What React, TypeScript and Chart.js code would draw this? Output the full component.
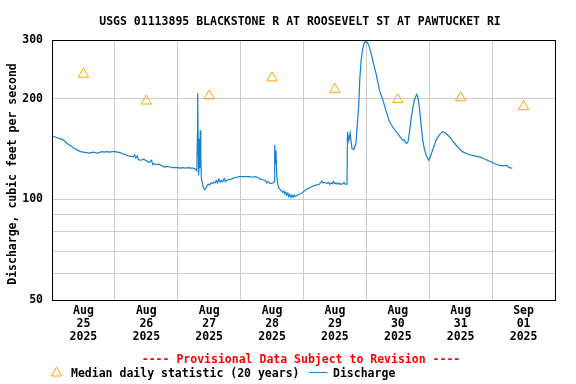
import React, { useEffect, useRef } from 'react';
import { Chart, registerables } from 'chart.js';

Chart.register(...registerables);

const TITLE = 'USGS 01113895 BLACKSTONE R AT ROOSEVELT ST AT PAWTUCKET RI';
const Y_TITLE = 'Discharge, cubic feet per second';
const NOTE = '---- Provisional Data Subject to Revision ----';
const LEGEND_MEDIAN = 'Median daily statistic (20 years)';
const LEGEND_DISCHARGE = 'Discharge';

// x is hours since 2025-08-25 00:00
const dayLabels = [
  ['Aug', '25', '2025'],
  ['Aug', '26', '2025'],
  ['Aug', '27', '2025'],
  ['Aug', '28', '2025'],
  ['Aug', '29', '2025'],
  ['Aug', '30', '2025'],
  ['Aug', '31', '2025'],
  ['Sep', '01', '2025'],
];
const medianHours = [12, 36, 60, 84, 108, 132, 156, 180];
const medianValues = [237, 197, 204, 231, 213.5, 199, 201.5, 189.5];

const yTicks = [50, 60, 70, 80, 90, 100, 200, 300];
const yLabeled = [50, 100, 200, 300];

const dischargeHours = [
  0, 1, 2, 3, 4, 5, 6, 7, 8, 9, 10, 11, 12, 13, 14, 15, 16, 17, 18, 19, 20, 21, 22, 23,
  24, 25, 26, 27, 28, 29, 30, 31, 31.5, 32, 32.5, 33, 34, 35, 36, 37, 38, 38.5, 39, 40, 41, 42, 43, 44, 45, 46, 47,
  48, 49, 50, 51, 52, 53, 54, 55, 55.3, 55.5, 55.6, 55.8, 56.0, 56.2, 56.4, 56.6, 56.8, 57.0, 57.3, 57.7, 58.2, 58.7,
  59.2, 59.7, 60.2, 60.7, 61.2, 61.7, 62.2, 62.7, 63.2, 63.7, 64.2, 64.7, 65.2, 65.7, 66.2, 66.7, 67.5, 68.5, 69.5, 70.5, 71.5,
  72.5, 73.5, 74.5, 75.5, 76.5, 77.5, 78.5, 79.5, 80.5, 81.5, 82, 82.5, 83, 83.5, 84.3, 84.8, 85.0, 85.3, 85.5, 85.8,
  86.1, 86.6, 87.1, 87.6, 88.1, 88.5, 88.8, 89.2, 89.6, 90.0, 90.4, 90.8, 91.2, 91.6, 92.0, 92.4, 92.8, 93.3, 94, 95,
  96, 97, 98, 99, 100, 101, 102, 103, 103.5, 104, 105, 105.5, 106, 106.5, 107, 107.5, 108, 108.5, 109, 109.5, 110, 111,
  111.5, 112, 112.6, 112.8, 113.3, 113.8, 114.5, 115.2, 116.0, 116.6, 117.1, 117.5, 118.0, 118.5, 119.2,
  120.0, 120.8, 121.8, 122.7, 123.7, 125, 126.3, 127.5, 128.8, 130, 131.4, 132.6, 133.3, 133.9, 134.5, 134.9, 135.4,
  135.9, 136.4, 137.1, 137.6, 138.3, 139.2, 139.6, 140.2, 140.8, 141.5, 142.1, 142.9, 143.8,
  144.4, 145.2, 146.6, 147.9, 149.1, 150.2, 151.7, 152.8, 154.2, 155.4, 156.7, 158, 159.3, 161.2, 163.1, 164.4, 166.2,
  168.1, 169.9, 171.9, 173.7, 174.5, 175.7,
];
const dischargeValues = [
  155, 154, 153, 152, 151, 149, 146.5, 145, 143, 141.5, 140, 139, 138.5, 138, 137.5, 138, 138.5, 137.5, 138, 139, 138.5, 139, 138.5, 139,
  139, 138.5, 138, 137, 136, 135, 134.5, 134, 136, 133, 135, 131.5, 131, 132, 130.5, 129, 131, 127, 128, 127, 127.5, 126, 125, 125.5, 125, 124.5, 124.5,
  124.5, 124, 124.5, 124, 124.5, 124, 124, 123, 122, 158, 208, 150, 118, 152, 124, 161, 135, 116, 113, 109, 107, 108,
  110, 111, 110.5, 112, 111.5, 112.5, 112, 114, 112, 115, 112.5, 114, 113, 115.5, 113, 114, 114.5, 115, 116, 116.5, 117,
  117, 117, 117, 117, 116.5, 117, 116.5, 115, 114.5, 114, 112, 113, 112, 111.5, 112, 113, 145.5, 128, 140, 118,
  112, 108, 107, 106, 105, 106, 104, 105, 103, 104.5, 102, 103.5, 101.5, 103, 101.5, 103, 102, 102.5, 103.5, 104,
  105.5, 107, 108, 109, 110, 110.5, 111, 113.5, 112, 112.5, 111.5, 112.5, 111, 112, 111.5, 113, 111.5, 112, 111, 112, 111, 111.5,
  112.5, 111, 111, 159, 150, 158, 142, 141, 147, 170, 192, 230, 261, 280, 294,
  297, 291, 274, 255, 238, 212, 198.5, 184, 171, 165, 159.5, 155, 152, 150.5, 151, 148, 147,
  149, 158, 175, 185, 198, 206, 203, 189.5, 170, 150.5, 142, 135, 131,
  134, 140, 150.5, 156, 159.5, 158, 154, 150, 145.5, 142, 139, 137.5, 136, 135, 134, 133, 131,
  129, 127, 126, 126.5, 124.5, 124,
];

const X_MIN = 0;
const X_MAX = 192;

const FONT_FAMILY = '"DejaVu Sans Mono", monospace';
const FONT_SIZE = 11.5;
const BLUE = '#1580d0';
const ORANGE = '#ffa500';
const GRID = '#cccccc';

const decorPlugin = {
  id: 'decor',
  afterDraw(chart: any) {
    const { ctx, chartArea: a } = chart;
    ctx.save();
    // plot frame
    ctx.strokeStyle = '#000';
    ctx.lineWidth = 1;
    const l = Math.round(a.left) + 0.5;
    const t = Math.round(a.top) + 0.5;
    const r = Math.round(a.right) + 0.5;
    const b = Math.round(a.bottom) + 0.5;
    ctx.strokeRect(l, t, r - l, b - t);

    ctx.font = `bold ${FONT_SIZE}px ${FONT_FAMILY}`;
    ctx.fillStyle = '#000';
    ctx.textBaseline = 'alphabetic';
    ctx.textAlign = 'center';
    ctx.fillText(TITLE, 300, 25);

    ctx.fillStyle = '#ff0000';
    ctx.fillText(NOTE, 301, 363);

    // legend
    ctx.fillStyle = '#000';
    ctx.textAlign = 'left';
    ctx.fillText(LEGEND_MEDIAN, 71, 377);
    ctx.fillText(LEGEND_DISCHARGE, 333, 377);

    ctx.strokeStyle = ORANGE;
    ctx.beginPath();
    ctx.moveTo(56.5, 367);
    ctx.lineTo(61.5, 376);
    ctx.lineTo(51.5, 376);
    ctx.closePath();
    ctx.stroke();

    ctx.strokeStyle = BLUE;
    ctx.beginPath();
    ctx.moveTo(309, 372.5);
    ctx.lineTo(327, 372.5);
    ctx.stroke();

    // y axis title
    ctx.fillStyle = '#000';
    ctx.translate(15.5, 174);
    ctx.rotate(-Math.PI / 2);
    ctx.textAlign = 'center';
    ctx.fillText(Y_TITLE, 0, 0);
    ctx.restore();
  },
};

export default function App() {
  const ref = useRef<HTMLCanvasElement | null>(null);

  useEffect(() => {
    document.body.style.margin = '0';
    const canvas = ref.current;
    if (!canvas) return;

    const discharge = dischargeHours.map((h, i) => ({ x: h, y: dischargeValues[i] }));
    const medians = medianHours.map((h, i) => ({ x: h, y: medianValues[i] }));
    const xTickValues: number[] = [];
    for (let h = X_MIN; h <= X_MAX; h += 12) xTickValues.push(h);

    const font = { family: FONT_FAMILY, size: FONT_SIZE, weight: 'bold' as const, lineHeight: 13 / FONT_SIZE };

    const chart = new Chart(canvas, {
      type: 'line',
      data: {
        datasets: [
          {
            label: LEGEND_DISCHARGE,
            data: discharge,
            borderColor: BLUE,
            borderWidth: 1.2,
            pointRadius: 0,
            fill: false,
            tension: 0,
          },
          {
            label: LEGEND_MEDIAN,
            data: medians,
            showLine: false,
            pointStyle: 'triangle',
            pointRadius: 6,
            borderColor: ORANGE,
            backgroundColor: 'rgba(0,0,0,0)',
            pointBorderWidth: 1,
            borderWidth: 1,
          },
        ],
      },
      options: {
        responsive: false,
        devicePixelRatio: 1,
        animation: false,
        layout: { padding: { left: 0, right: 21, top: 40, bottom: 0 } },
        plugins: {
          legend: { display: false },
          title: { display: false },
          tooltip: { enabled: false },
        },
        scales: {
          x: {
            type: 'linear',
            min: X_MIN,
            max: X_MAX,
            afterBuildTicks: (scale: any) => {
              scale.ticks = xTickValues.map((v) => ({ value: v }));
            },
            afterFit: (scale: any) => {
              scale.height = 84;
            },
            grid: {
              color: (c: any) => (c.tick && c.tick.value % 24 === 0 ? GRID : 'rgba(0,0,0,0)'),
              drawTicks: false,
            },
            border: { color: '#000' },
            ticks: {
              autoSkip: false,
              maxRotation: 0,
              minRotation: 0,
              padding: 5,
              color: '#000',
              font,
              callback: (v: any) => {
                const n = Number(v);
                if (n % 24 !== 12) return '';
                return dayLabels[(n - 12) / 24] || '';
              },
            },
          },
          y: {
            type: 'logarithmic',
            min: 50,
            max: 300,
            afterBuildTicks: (scale: any) => {
              scale.ticks = yTicks.map((v) => ({ value: v }));
            },
            afterFit: (scale: any) => {
              scale.width = 52;
            },
            grid: { color: GRID, drawTicks: false },
            border: { color: '#000' },
            ticks: {
              padding: 9,
              color: '#000',
              font,
              autoSkip: false,
              callback: (v: any) => (yLabeled.includes(Number(v)) ? String(v) : ''),
            },
          },
        },
      },
      plugins: [decorPlugin],
    });

    return () => chart.destroy();
  }, []);

  return (
    <canvas
      ref={ref}
      width={576}
      height={384}
      style={{ display: 'block', position: 'absolute', left: 0, top: 0, width: 576, height: 384 }}
    />
  );
}
